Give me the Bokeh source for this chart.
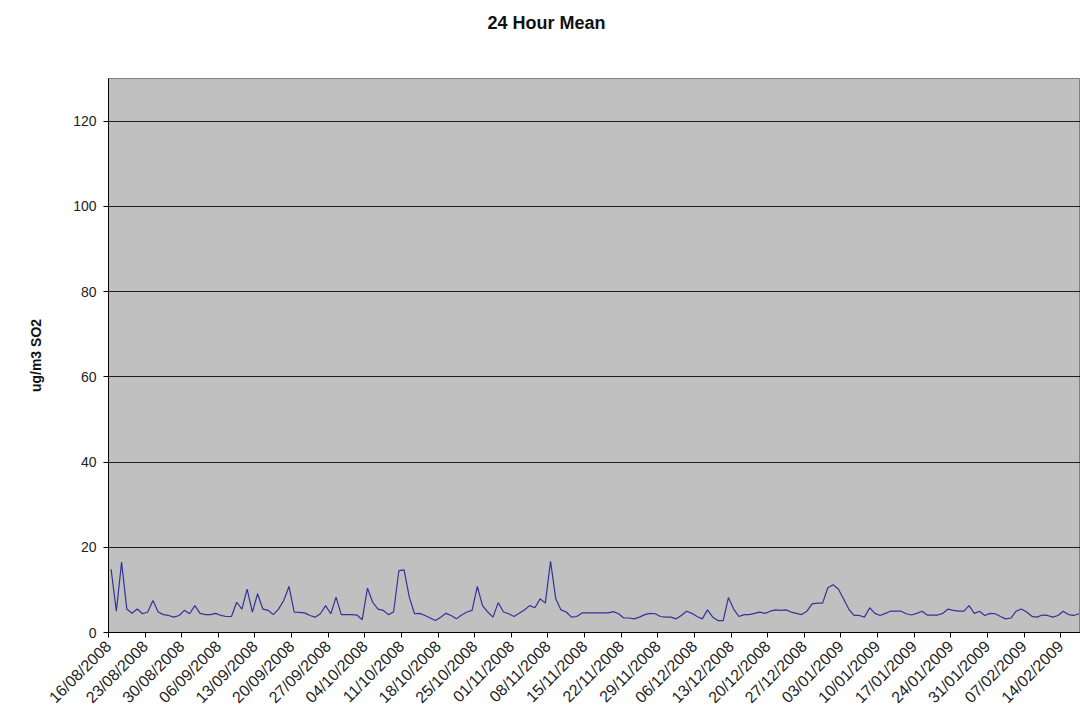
import math
from bokeh.plotting import figure
from bokeh.models import FixedTicker, Range1d, Title
from bokeh.embed import file_html
from bokeh.resources import INLINE

# Daily 24-hour mean SO2 (ug/m3), starting 16/08/2008
so2_values = [
    14.8, 5.0, 16.5, 5.5, 4.5, 5.5, 4.4, 4.8, 7.5, 4.8,
    4.2, 4.0, 3.6, 4.0, 5.2, 4.4, 6.3, 4.5, 4.2, 4.2,
    4.5, 4.0, 3.75, 3.75, 7.1, 5.5, 10.2, 4.8, 9.1, 5.5,
    5.2, 4.2, 5.5, 7.5, 10.8, 4.8, 4.7, 4.6, 4.0, 3.6,
    4.4, 6.3, 4.4, 8.3, 4.2, 4.2, 4.2, 4.1, 3.0, 10.4,
    7.1, 5.5, 5.2, 4.2, 4.8, 14.5, 14.7, 8.3, 4.4, 4.5,
    4.0, 3.4, 2.8, 3.6, 4.5, 4.0, 3.2, 4.1, 4.8, 5.2,
    10.8, 6.3, 4.8, 3.6, 7.0, 4.8, 4.4, 3.75, 4.5, 5.3,
    6.3, 5.8, 7.9, 6.9, 16.7, 7.9, 5.3, 4.8, 3.6, 3.75,
    4.6, 4.6, 4.6, 4.6, 4.6, 4.6, 4.9, 4.4, 3.4, 3.4,
    3.2, 3.6, 4.2, 4.5, 4.4, 3.75, 3.6, 3.6, 3.2, 4.0,
    5.0, 4.5, 3.75, 3.2, 5.3, 3.6, 2.8, 2.8, 8.2, 5.5,
    3.75, 4.2, 4.2, 4.5, 4.8, 4.5, 5.0, 5.3, 5.2, 5.3,
    4.8, 4.5, 4.2, 5.0, 6.7, 6.9, 6.9, 10.5, 11.2, 10.2,
    7.9, 5.5, 4.0, 4.0, 3.6, 5.8, 4.5, 4.0, 4.5, 5.0,
    5.0, 5.0, 4.4, 4.1, 4.5, 5.0, 4.1, 4.1, 4.1, 4.5,
    5.5, 5.2, 5.0, 5.0, 6.3, 4.5, 5.0, 4.0, 4.5, 4.4,
    3.75, 3.2, 3.4, 5.0, 5.5, 4.8, 3.8, 3.6, 4.1, 4.0,
    3.6, 4.0, 5.0, 4.2, 4.0, 4.4,
]

tick_labels = [
    "16/08/2008", "23/08/2008", "30/08/2008", "06/09/2008", "13/09/2008",
    "20/09/2008", "27/09/2008", "04/10/2008", "11/10/2008", "18/10/2008",
    "25/10/2008", "01/11/2008", "08/11/2008", "15/11/2008", "22/11/2008",
    "29/11/2008", "06/12/2008", "13/12/2008", "20/12/2008", "27/12/2008",
    "03/01/2009", "10/01/2009", "17/01/2009", "24/01/2009", "31/01/2009",
    "07/02/2009", "14/02/2009",
]
y_ticks = [0, 20, 40, 60, 80, 100, 120]

day_x = [i + 0.5 for i in range(len(so2_values))]
tick_pos = [7 * i for i in range(len(tick_labels))]

FONT = "Liberation Sans"

p = figure(width=1080, height=722, output_backend="svg", toolbar_location=None,
           x_range=Range1d(0, 185.8), y_range=Range1d(0, 130),
           min_border_left=108, min_border_right=0, min_border_top=78,
           min_border_bottom=90)

p.title = None
spacer = Title(text=" ", standoff=16, text_font=FONT, text_font_size="18px")
t = Title(text="24 Hour Mean", align="left", offset=379, standoff=16,
          text_font=FONT, text_font_size="18px", text_font_style="bold",
          text_color="#111111")
p.add_layout(spacer, "above")
p.add_layout(t, "above")

p.background_fill_color = "#C0C0C0"
p.border_fill_color = "white"
p.outline_line_color = "#808080"
p.outline_line_width = 1

p.line(day_x, so2_values, line_color="#333399", line_width=1.2)

# x axis
p.xaxis.ticker = FixedTicker(ticks=tick_pos)
p.xaxis.major_label_overrides = {tp: lab for tp, lab in zip(tick_pos, tick_labels)}
p.xaxis.major_label_orientation = math.pi / 4
p.xaxis.major_label_text_font = FONT
p.xaxis.major_label_text_font_size = "16px"
p.xaxis.major_label_text_color = "#222222"
p.xaxis.major_tick_out = 5
p.xaxis.major_tick_in = 0
p.xaxis.minor_tick_out = 0
p.xaxis.minor_tick_in = 0
p.xaxis.axis_line_color = "black"
p.xaxis.major_tick_line_color = "black"
p.xaxis.major_label_standoff = 6
p.xgrid.visible = False

# y axis
p.yaxis.ticker = FixedTicker(ticks=y_ticks)
p.yaxis.major_label_text_font = FONT
p.yaxis.major_label_text_font_size = "14px"
p.yaxis.major_label_text_color = "#222222"
p.yaxis.major_tick_out = 5
p.yaxis.major_tick_in = 0
p.yaxis.minor_tick_out = 0
p.yaxis.minor_tick_in = 0
p.yaxis.axis_line_color = "black"
p.yaxis.major_tick_line_color = "black"
p.yaxis.major_label_standoff = 7
p.yaxis.axis_label = "ug/m3 SO2"
p.yaxis.axis_label_text_font = FONT
p.yaxis.axis_label_text_font_size = "14px"
p.yaxis.axis_label_text_font_style = "bold"
p.yaxis.axis_label_text_color = "#111111"
p.yaxis.axis_label_standoff = 26

p.ygrid.grid_line_color = "black"
p.ygrid.grid_line_width = 1
p.ygrid.grid_line_alpha = 0.85

open("out.html", "w").write(file_html(p, INLINE))
